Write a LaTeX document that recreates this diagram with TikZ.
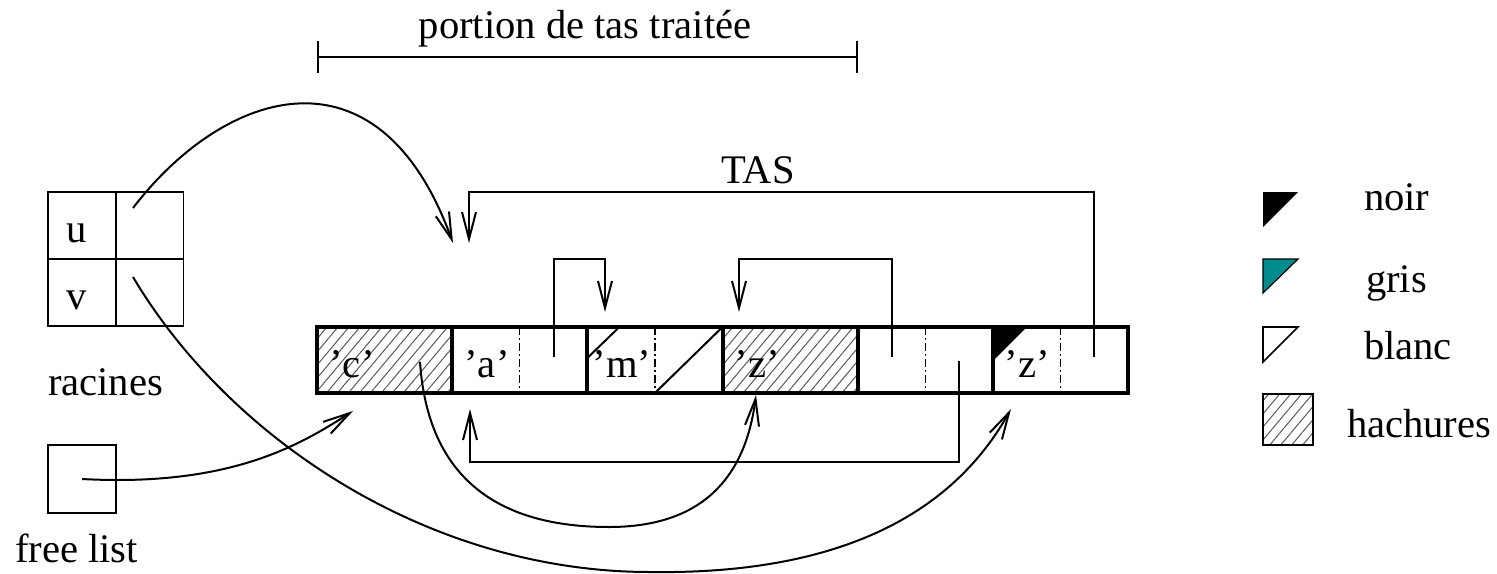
\documentclass[tikz,border=0pt]{standalone}
\usepackage{fontspec}
\setmainfont{Liberation Serif}
\usetikzlibrary{arrows.meta,patterns.meta}
\definecolor{tealgris}{RGB}{0,140,140}
\begin{document}
\begin{tikzpicture}[x=0.5pt,y=-0.5pt,
  every node/.style={font=\fontsize{20.3}{24}\selectfont, inner sep=0pt, outer sep=0pt},
  lbl/.style={anchor=base},
  lblw/.style={anchor=base west},
  cell/.style={draw, line width=2pt, minimum width=67.58pt, minimum height=33pt},
  hatch/.style={pattern={Lines[angle=50,distance=4.2pt,line width=0.5pt]}, pattern color=black!65},
  rootcell/.style={draw, line width=0.9pt, minimum width=34pt, minimum height=33.5pt},
  midline/.style={line width=0.7pt, dash pattern=on 4pt off 1.5pt on 1pt off 1.5pt},
  ptr/.style={line width=1pt, -{Straight Barb[length=13.5pt,width=7pt]}},
  thinline/.style={line width=1pt},
]
\useasboundingbox (0,0) rectangle (1497,573);

% heap cells
\node[cell,hatch] (h1) at (384.58,360) {};
\node[cell] (h2) at (519.75,360) {};
\node[cell] (h3) at (654.92,360) {};
\node[cell,hatch] (h4) at (790.08,360) {};
\node[cell] (h5) at (925.25,360) {};
\node[cell] (h6) at (1060.42,360) {};
\draw[midline] (h2.north) -- (h2.south);
\draw[midline] (h3.north) -- (h3.south);
\draw[midline] (h5.north) -- (h5.south);
\draw[midline] (h6.north) -- (h6.south);
% colour marks
\draw[thinline] (h3.north west) ++(0,31) -- ++(32,-31);
\draw[thinline] (h3.south) -- (h3.north east);
\fill (h6.north west) -- ++(34,0) -- ++(-34,34) -- cycle;

% heap labels
\node[lbl] (lc) at (352,377) {'c'};
\node[lbl] (la) at (487,377) {'a'};
\node[lbl] (lm) at (622,377) {'m'};
\node[lbl] (lz1) at (757,377) {'z'};
\node[lbl] (lz2) at (1027,377) {'z'};

% roots
\node[rootcell] (ru) at (82,225.5) {};
\node[rootcell] (rpu) at (149.5,225.5) {};
\node[rootcell] (rv) at (82,292.5) {};
\node[rootcell] (rpv) at (149.5,292.5) {};
\node[lbl] (tu) at (77,242) {u};
\node[lbl] (tv) at (77,309) {v};
\node[lblw] (racines) at (48,395) {racines};

% free list
\node[rootcell, minimum height=34pt] (fl) at (82,479) {};
\node[lblw] (freelist) at (15,562) {free list};

% titles
\node[lbl] (portion) at (585,38) {portion de tas traitée};
\node[lbl] (tas) at (758,183) {TAS};
\coordinate (b1) at (317,57);
\coordinate (b2) at (858,57);
\draw[thinline, {Bar[width=16pt]}-{Bar[width=16pt]}] (b1) -- (b2);

% pointer sources and targets
\coordinate (su) at (133,208);
\coordinate (sv) at (133,277);
\coordinate (sc) at (420,362);
\coordinate (sa) at (554,357);
\coordinate (s5l) at (892,357);
\coordinate (s5r) at (959,361);
\coordinate (s6) at (1094,357);
\coordinate (xu) at (453,243);
\coordinate (x6) at (469,243);
\coordinate (xam) at (605,312);
\coordinate (x5z) at (739,312);
\coordinate (xloop) at (470,409);
\coordinate (xcz) at (756,395);
\coordinate (xfl) at (353,411);
\coordinate (xv) at (1011,409);

\draw[ptr] (sa) -- ++(0,-98) -| (xam);
\draw[ptr] (s5l) -- ++(0,-98) -| (x5z);
\draw[ptr] (s6) -- ++(0,-165) -| (x6);
\draw[ptr] (s5r) -- ++(0,101) -| (xloop);
\draw[ptr] (su) .. controls (225,88) and (379,39) .. (xu);
\draw[ptr] (sc) .. controls (428,480) and (500,527) .. (609,527) .. controls (700,527) and (745,480) .. (xcz);
\draw[ptr] (fl.center) .. controls (230,487) and (300,445) .. (xfl);
\draw[ptr] (sv) .. controls (230,440) and (430,572) .. (650,572) .. controls (860,575) and (960,500) .. (xv);

% legend
\fill (1263,192) -- (1298,192) -- (1263,227) -- cycle;
\filldraw[fill=tealgris, draw=black, line width=0.6pt] (1263,259) -- (1298,259) -- (1263,293) -- cycle;
\draw[line width=0.8pt] (1263,327) -- (1298,327) -- (1263,362) -- cycle;
\node[draw, hatch, line width=0.8pt, minimum width=25pt, minimum height=25.5pt] (lh) at (1288,419.5) {};
\node[lblw] (noir) at (1364,210) {noir};
\node[lblw] (gris) at (1366,292) {gris};
\node[lblw] (blanc) at (1364,359) {blanc};
\node[lblw] (hach) at (1347,437) {hachures};
\end{tikzpicture}
\end{document}
